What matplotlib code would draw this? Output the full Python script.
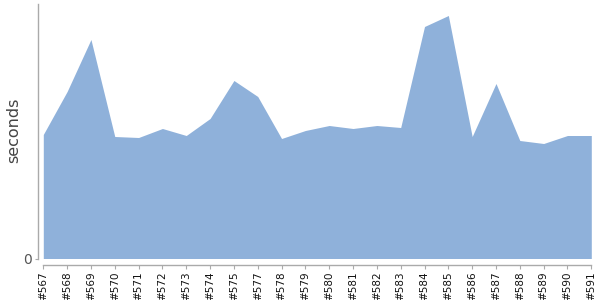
import matplotlib
matplotlib.use("Agg")
import matplotlib.pyplot as plt
import numpy as np

builds = ["#567", "#568", "#569", "#570", "#571", "#572", "#573", "#574", "#575",
          "#577", "#578", "#579", "#580", "#581", "#582", "#583", "#584", "#585",
          "#586", "#587", "#588", "#589", "#590", "#591"]
seconds = [12.4, 16.7, 21.9, 12.2, 12.1, 13.0, 12.3, 14.0, 17.8,
           16.2, 12.0, 12.8, 13.3, 13.0, 13.3, 13.1, 23.2, 24.3,
           12.2, 17.5, 11.8, 11.5, 12.3, 12.3]

fig = plt.figure(figsize=(6, 3), dpi=100)
ax = fig.add_axes([43.3 / 600, 1 - 258.5 / 300, (591.3 - 43.3) / 600, (258.5 - 4) / 300])

for s in ["top", "right"]:
    ax.spines[s].set_visible(False)
ax.spines["left"].set_position(("outward", 3.5))
ax.spines["bottom"].set_position(("outward", 5))
ax.spines["left"].set_color("#aaaaaa")
ax.spines["bottom"].set_color("#aaaaaa")
ax.spines["left"].set_linewidth(1)
ax.spines["bottom"].set_linewidth(1)

x = np.arange(len(builds))
ax.fill_between(x, 0, seconds, color="#8fb1da", linewidth=0)

ax.set_xlim(0, len(builds) - 1)
ax.set_ylim(0, 25.45)

ax.set_xticks(x)
ax.set_xticklabels(builds, rotation=90, fontsize=7.5, color="#111111")
ax.set_yticks([0])
ax.set_yticklabels(["0"], fontsize=10, color="#555555")
ax.tick_params(axis="x", length=3, color="#aaaaaa", pad=1)
ax.tick_params(axis="y", length=2, color="#aaaaaa", pad=3)

ax.set_ylabel("seconds", fontsize=11.5, color="#444444", va="center")
ax.yaxis.set_label_coords(-0.0535, 0.505)

fig.savefig("out.png", dpi=100)
